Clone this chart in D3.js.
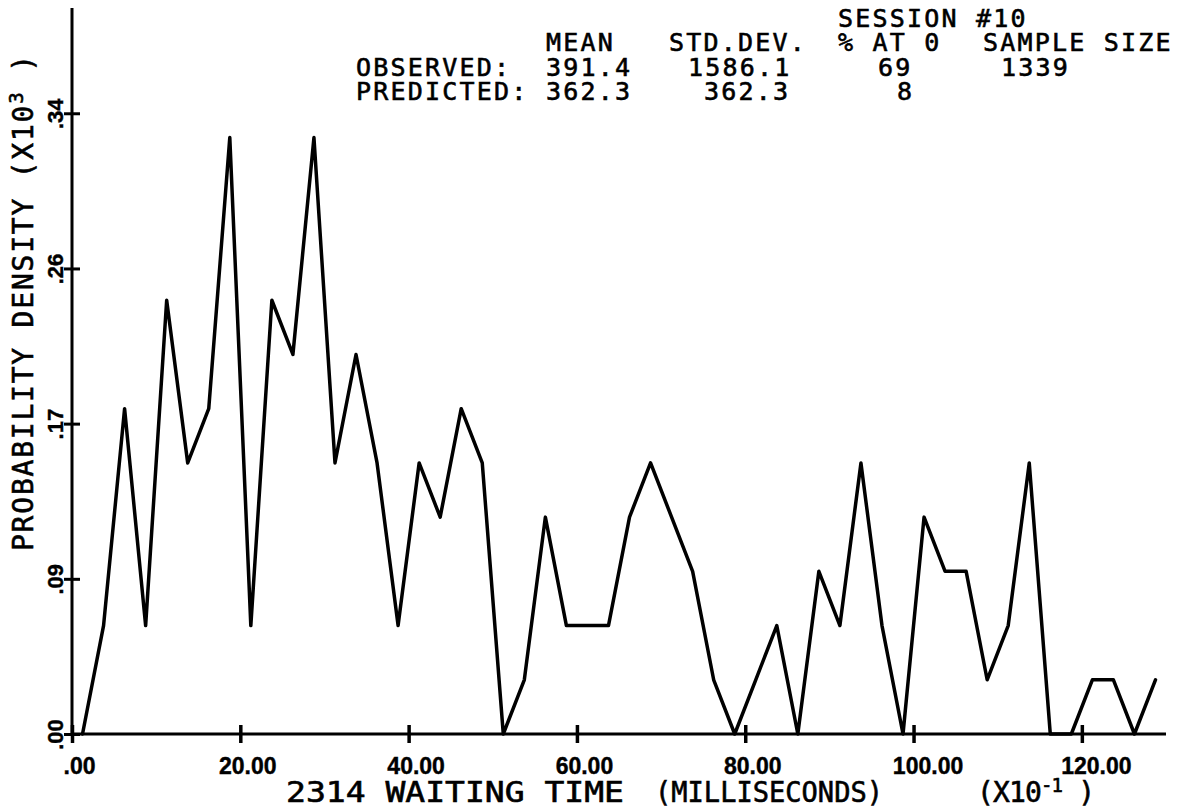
<!DOCTYPE html>
<html>
<head>
<meta charset="utf-8">
<script src="https://cdn.jsdelivr.net/npm/d3@7"></script>
<style>
  html, body { margin: 0; padding: 0; background: #fff; }
  svg { display: block; }
  .mono { font-family: "DejaVu Sans Mono", "Liberation Mono", monospace; fill: #000; stroke: #000; stroke-width: 0.6px; white-space: pre; }
  .tick-label { font-family: "Liberation Sans", Arial, sans-serif; font-weight: bold; fill: #000; stroke: #000; stroke-width: 0.4px; }
</style>
</head>
<body>
<svg id="chart" width="1180" height="812"></svg>
<script>
// Waiting-time histogram, session 10 (bins of 25 ms, x in units of 10 ms)
const binCenters = [1.25, 3.75, 6.25, 8.75, 11.25, 13.75, 16.25, 18.75, 21.25, 23.75,
  26.25, 28.75, 31.25, 33.75, 36.25, 38.75, 41.25, 43.75, 46.25, 48.75,
  51.25, 53.75, 56.25, 58.75, 61.25, 63.75, 66.25, 68.75, 71.25, 73.75,
  76.25, 78.75, 81.25, 83.75, 86.25, 88.75, 91.25, 93.75, 96.25, 98.75,
  101.25, 103.75, 106.25, 108.75, 111.25, 113.75, 116.25, 118.75, 121.25, 123.75,
  126.25, 128.75];
const observedCounts = [0, 2, 6, 2, 8, 5, 6, 11, 2, 8,
  7, 11, 5, 7, 5, 2, 5, 4, 6, 5,
  0, 1, 4, 2, 2, 2, 4, 5, 4, 3,
  1, 0, 1, 2, 0, 3, 2, 5, 2, 0,
  4, 3, 3, 1, 2, 5, 0, 0, 1, 1,
  0, 1];
const sampleSize = 1339;
const binWidthMs = 25;

const xTickValues = [0, 20, 40, 60, 80, 100, 120];
const xTickLabels = [".00", "20.00", "40.00", "60.00", "80.00", "100.00", "120.00"];
const yTickValues = [0, 0.0855, 0.171, 0.2565, 0.342];
const yTickLabels = [".00", ".09", ".17", ".26", ".34"];

const sessionTitle = "SESSION #10";
const statHeaders = ["MEAN", "STD.DEV.", "% AT 0", "SAMPLE SIZE"];
const observedStats = ["391.4", "1586.1", "69", "1339"];
const predictedStats = ["362.3", "362.3", "8"];
const rowLabels = ["OBSERVED:", "PREDICTED:"];

// probability density (x10^3 per ms) of each bin
const density = observedCounts.map(c => c / (sampleSize * binWidthMs) * 1000);
const points = binCenters.map((x, i) => ({ x, y: density[i] }));

const svg = d3.select("#chart");

const x = d3.scaleLinear().domain([0, 130]).range([72, 1166]);
const y = d3.scaleLinear().domain([0, 0.4]).range([734, 8]);

// axes
const axisColor = "#000";
svg.append("line")
  .attr("x1", x(0)).attr("x2", x(0))
  .attr("y1", y(0) + 2).attr("y2", y(0.4))
  .attr("stroke", axisColor).attr("stroke-width", 3);
svg.append("line")
  .attr("x1", x(0) - 1).attr("x2", x(130))
  .attr("y1", y(0)).attr("y2", y(0))
  .attr("stroke", axisColor).attr("stroke-width", 3);

const xAxis = d3.axisBottom(x)
  .tickValues(xTickValues)
  .tickFormat((d, i) => xTickLabels[i])
  .tickSizeOuter(0);
const gx = svg.append("g").attr("transform", `translate(0,${y(0)})`).call(xAxis);
gx.select(".domain").remove();
gx.selectAll(".tick line")
  .attr("y1", -9).attr("y2", 9)
  .attr("stroke", axisColor).attr("stroke-width", 3.5);
gx.selectAll(".tick text")
  .attr("class", "tick-label")
  .attr("font-size", 23)
  .attr("y", 40).attr("dy", 0)
  .attr("dx", d => (xTickLabels[xTickValues.indexOf(d)].length > 5 ? 14 : 7))
  .attr("text-anchor", "middle");

const yAxis = d3.axisLeft(y)
  .tickValues(yTickValues)
  .tickFormat((d, i) => yTickLabels[i])
  .tickSizeOuter(0);
const gy = svg.append("g").attr("transform", `translate(${x(0)},0)`).call(yAxis);
gy.select(".domain").remove();
gy.selectAll(".tick line")
  .attr("x1", -8).attr("x2", 8)
  .attr("stroke", axisColor).attr("stroke-width", 3);
gy.selectAll(".tick text")
  .attr("class", "tick-label")
  .attr("font-size", 22)
  .attr("x", null).attr("dy", null)
  .attr("text-anchor", "middle")
  .attr("transform", "translate(-9,0) rotate(-90)");

// observed density curve
const line = d3.line().x(d => x(d.x)).y(d => y(d.y));
svg.append("path")
  .datum(points)
  .attr("d", line)
  .attr("fill", "none")
  .attr("stroke", "#000")
  .attr("stroke-width", 3.5)
  .attr("stroke-linejoin", "round")
  .attr("stroke-linecap", "round");

// axis titles
const yTitle = svg.append("text")
  .attr("class", "mono")
  .attr("font-size", 28)
  .attr("textLength", 496)
  .attr("transform", "translate(33,551) rotate(-90)");
yTitle.append("tspan").text("PROBABILITY DENSITY (X10");
yTitle.append("tspan").attr("font-size", 19).attr("dy", -10).text("3");
yTitle.append("tspan").attr("dy", 10).text(" )");

const xTitleParts = ["2314 WAITING TIME", "(MILLISECONDS)"];
const xTitleX = [286, 655];
const xTitleLen = [338, 228];
svg.selectAll("text.xtitle").data(xTitleParts).enter().append("text")
  .attr("class", "mono xtitle")
  .attr("font-size", 28)
  .attr("x", (d, i) => xTitleX[i]).attr("y", 802)
  .attr("textLength", (d, i) => xTitleLen[i])
  .attr("lengthAdjust", "spacingAndGlyphs")
  .text(d => d);
const xUnit = svg.append("text")
  .attr("class", "mono")
  .attr("font-size", 28)
  .attr("x", 977).attr("y", 802)
  .attr("textLength", 118);
xUnit.append("tspan").text("(X10");
xUnit.append("tspan").attr("font-size", 19).attr("dy", -10).text("-1");
xUnit.append("tspan").attr("dy", 10).text(" )");

// summary table
const headerFont = 25;
const headerSpacing = 2.2;
svg.append("text").attr("class", "mono").attr("font-size", headerFont)
  .attr("letter-spacing", headerSpacing)
  .attr("x", 838).attr("y", 27).text(sessionTitle);

const headerX = [546, 669, 838, 983];
const observedX = [546, 688, 878, 1001];
const predictedX = [546, 704, 897];

svg.selectAll("text.hdr").data(statHeaders).enter().append("text")
  .attr("class", "mono hdr").attr("font-size", headerFont)
  .attr("letter-spacing", headerSpacing)
  .attr("x", (d, i) => headerX[i]).attr("y", 51).text(d => d);

svg.selectAll("text.rowlab").data(rowLabels).enter().append("text")
  .attr("class", "mono rowlab").attr("font-size", headerFont)
  .attr("letter-spacing", headerSpacing)
  .attr("x", 356).attr("y", (d, i) => 76 + i * 24).text(d => d);

svg.selectAll("text.obs").data(observedStats).enter().append("text")
  .attr("class", "mono obs").attr("font-size", headerFont)
  .attr("letter-spacing", headerSpacing)
  .attr("x", (d, i) => observedX[i]).attr("y", 76).text(d => d);

svg.selectAll("text.pred").data(predictedStats).enter().append("text")
  .attr("class", "mono pred").attr("font-size", headerFont)
  .attr("letter-spacing", headerSpacing)
  .attr("x", (d, i) => predictedX[i]).attr("y", 100).text(d => d);
</script>
</body>
</html>
